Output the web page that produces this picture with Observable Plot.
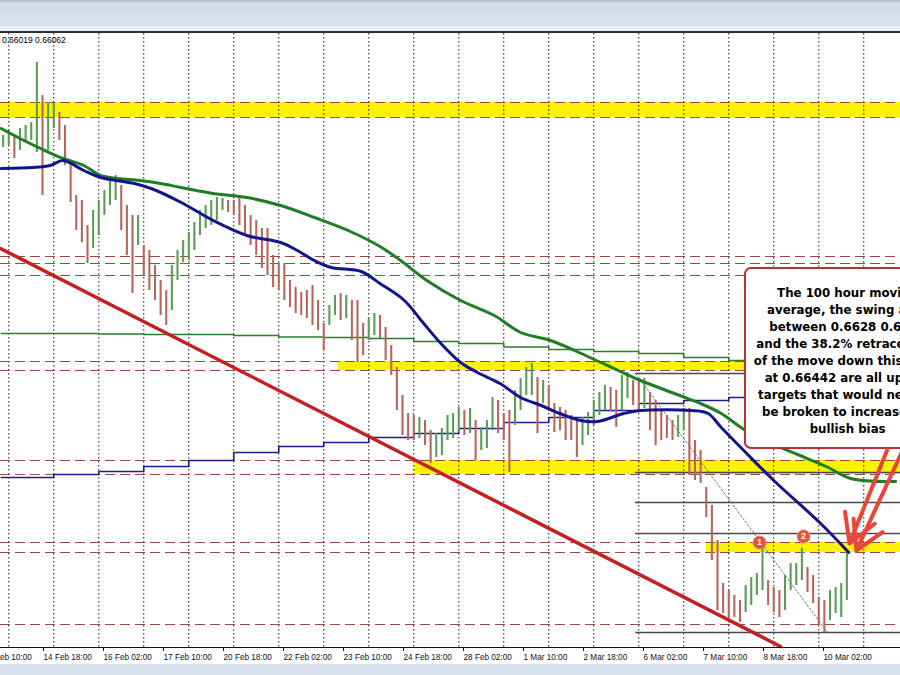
<!DOCTYPE html>
<html>
<head>
<meta charset="utf-8">
<script src="https://cdn.jsdelivr.net/npm/d3@7"></script>
<script src="https://cdn.jsdelivr.net/npm/@observablehq/plot@0.6"></script>
<style>
  html, body { margin: 0; padding: 0; background: #ffffff; }
  #wrap { position: relative; width: 900px; height: 675px; overflow: hidden; background: #ffffff; }
  #chart { position: absolute; left: 0; top: 0; z-index: 1; }
  .chrome { position: absolute; left: 0; width: 900px; z-index: 5; font-size: 1px; line-height: 1px; }
  #quote { position: absolute; left: 2px; top: 35px; z-index: 6; font: 8.5px "Liberation Sans", Arial, sans-serif; color: #000; }
</style>
</head>
<body>
<div id="wrap">
  <div id="chart"></div>
  <div class="chrome" style="top:0px;height:2px;background-color:#b4c2d1;">&nbsp;</div>
  <div class="chrome" style="top:2px;height:10px;background-color:#d3dde8;">&nbsp;</div>
  <div class="chrome" style="top:12px;height:14px;background-color:#d9e2ec;">&nbsp;</div>
  <div class="chrome" style="top:26px;height:5px;background-color:#e8eef5;">&nbsp;</div>
  <div class="chrome" style="top:31px;height:2px;background-color:#2e2e2e;">&nbsp;</div>
  <div class="chrome" style="top:664px;height:11px;background-color:#d8e2ed;">&nbsp;</div>
  <div id="quote">0.66019 0.66062</div>
</div>
<script>
// ---- time axis (hours of trading time since 13 Feb 10:00) ----
const tickLabels = ["13 Feb 10:00","14 Feb 18:00","16 Feb 02:00","17 Feb 10:00","20 Feb 18:00","22 Feb 02:00","23 Feb 10:00","24 Feb 18:00","28 Feb 02:00","1 Mar 10:00","2 Mar 18:00","6 Mar 02:00","7 Mar 10:00","8 Mar 18:00","10 Mar 02:00"];
const tickHours = [0,32,64,96,128,160,192,224,256,288,320,352,384,416,448];
const dayHours = [14,38,62,86,110,134,158,182,206,230,254,278,302,326,350,374,398,422,446,470];

// ---- price bars (every 3 hours) ----
const barFirstHour = 11, barStepHours = 3;
const barHigh = [
0.6961,0.6965,0.6961,0.69666,0.6969,0.69714,0.70194,0.6993,0.69874,0.69866,
0.69794,0.6969,0.6941,0.6913,0.6909,0.6889,0.6901,0.6909,0.6917,0.6925,
0.6929,0.6921,0.6905,0.6897,0.6897,0.6873,0.6869,0.6857,0.6845,0.6837,
0.6857,0.6869,0.6877,0.68834,0.68914,0.6901,0.6905,0.6909,0.69114,0.69106,
0.6909,0.6909,0.69114,0.6905,0.6897,0.6893,0.68866,0.68866,0.6865,0.68586,
0.68586,0.6845,0.68394,0.68354,0.6837,0.6841,0.6829,0.68106,0.6825,0.6833,
0.68346,0.6833,0.6829,0.6829,0.68106,0.68146,0.68186,0.6817,0.68074,0.6793,
0.67754,0.6753,0.67386,0.6737,0.67354,0.6733,0.6725,0.67226,0.67266,0.6737,
0.67386,0.67434,0.6741,0.67426,0.6733,0.67274,0.6733,0.67514,0.6749,0.67386,
0.6741,0.6757,0.67666,0.67754,0.67786,0.67674,0.6765,0.6761,0.67466,0.67434,
0.6741,0.6737,0.6733,0.67354,0.67394,0.6749,0.67554,0.6761,0.67594,0.6757,
0.6769,0.67714,0.6765,0.67634,0.67666,0.67554,0.6749,0.6741,0.6737,0.6733,
0.6737,0.67426,0.67426,0.6717,0.6709,0.66794,0.6665,0.6637,0.66026,0.6597,
0.6593,0.6589,0.6601,0.66074,0.66106,0.66306,0.6605,0.65994,0.6597,0.6609,
0.66186,0.66186,0.66306,0.66154,0.6609,0.65914,0.6589,0.6597,0.65994,0.66026,
0.66274];
const barLow = [
0.69514,0.6953,0.69426,0.6949,0.69554,0.6957,0.69474,0.6913,0.6949,0.69666,
0.6957,0.6937,0.69074,0.6885,0.68754,0.68586,0.68706,0.6881,0.6897,0.6905,
0.6909,0.6885,0.6865,0.68346,0.6873,0.6849,0.6837,0.6829,0.6817,0.6809,
0.6821,0.6845,0.68594,0.6861,0.6869,0.6881,0.68866,0.6889,0.6893,0.6901,
0.68994,0.6897,0.6889,0.6881,0.6873,0.6865,0.68546,0.6849,0.68394,0.6837,
0.6829,0.68234,0.68186,0.6817,0.68146,0.6809,0.6805,0.6789,0.6809,0.6817,
0.6813,0.68146,0.6797,0.67794,0.6785,0.6797,0.6801,0.67986,0.6781,0.6769,
0.6741,0.6721,0.6717,0.6717,0.67186,0.6713,0.66986,0.67034,0.6705,0.6717,
0.67186,0.67234,0.6721,0.67226,0.6701,0.6709,0.67106,0.6725,0.67226,0.6717,
0.66914,0.6729,0.6741,0.6753,0.6753,0.67226,0.67466,0.6741,0.67234,0.6725,
0.6717,0.6717,0.67034,0.6713,0.6721,0.6729,0.6737,0.6741,0.67394,0.67274,
0.6741,0.67506,0.6745,0.6741,0.67426,0.6725,0.6713,0.6717,0.67186,0.6717,
0.67194,0.6725,0.6689,0.6685,0.66826,0.66554,0.6621,0.6581,0.65786,0.65754,
0.65754,0.65714,0.65794,0.6585,0.6593,0.6597,0.6585,0.65794,0.65754,0.6581,
0.6597,0.6601,0.6605,0.65954,0.65866,0.6569,0.65634,0.6573,0.65786,0.65754,
0.6589];

// ---- moving averages ----
const ma100Hours = [10,27,36,43,54,63,81,90,106,123,141,159,168,177,186,202,212,225,234,244,255,264,276,287,298,308,319,328,342,351,378,387,394,406,422,447,462];
const ma100Prices = [0.69346,0.69354,0.6937,0.6941,0.6933,0.69274,0.69226,0.69186,0.69074,0.6893,0.6881,0.68754,0.6869,0.6861,0.68554,0.68522,0.68426,0.6829,0.6813,0.67954,0.67794,0.67714,0.67626,0.67514,0.6745,0.67386,0.6733,0.67322,0.67386,0.6741,0.6741,0.67386,0.67274,0.6709,0.6685,0.66506,0.66274];
const ma200Hours = [10,20,31,43,54,63,72,84,95,106,123,141,159,177,195,212,223,237,255,273,287,303,324,339,351,369,383,394,407,423,436,450,463,487];
const ma200Prices = [0.69666,0.69586,0.69506,0.69426,0.6937,0.6929,0.69266,0.6925,0.69226,0.69194,0.69146,0.69114,0.6905,0.68954,0.6885,0.68722,0.6861,0.6845,0.6829,0.6817,0.68034,0.6797,0.67834,0.6773,0.6765,0.67546,0.67466,0.67386,0.6725,0.6713,0.6705,0.66962,0.66866,0.66842];
const dailyGreenHours = [10,62,86,134,158,182,206,230,254,278,302,326,350,374,398,430];
const dailyGreenPrices = [0.68026,0.68022,0.68018,0.6801,0.67998,0.67994,0.67986,0.67962,0.67946,0.67918,0.67898,0.67882,0.67866,0.67834,0.6781,0.6781];
const dailyBlueHours = [10,38,62,86,110,134,158,182,206,230,254,278,302,326,350,374,398,430];
const dailyBluePrices = [0.66874,0.66898,0.66922,0.66962,0.6701,0.67074,0.67122,0.67154,0.67194,0.67226,0.67266,0.67314,0.67354,0.6741,0.67466,0.6749,0.67514,0.67514];

// ---- drawn objects ----
const bandStartHour = [9.6,189.9,230.4,386.1];
const bandEndHour = [489.6,406.9,489.6,489.6];
const bandLow = [0.69754,0.6773,0.66898,0.66274];
const bandHigh = [0.69874,0.67802,0.6701,0.66354];
const dashedLevels = [0.69874,0.69754,0.68642,0.68586,0.6849,0.67802,0.6773,0.6701,0.66898,0.66354,0.66274,0.65698];
const fibStartHour = 348.3;
const fibLevels = [0.67706,0.66914,0.66674,0.66426,0.65634];
const fibDiagHours = [348.3,450.7];
const fibDiagPrices = [0.67706,0.65634];
const trendHours = [9.6,425.6];
const trendPrices = [0.68706,0.65522];
const markerLabels = ["1","2"];
const markerHours = [414.4,437.9];
const markerPrices = [0.66354,0.66402];
const arrowFromHours = [482.6,490.2];
const arrowFromPrices = [0.67098,0.67074];
const arrowToHours = [462.4,466.1];
const arrowToPrices = [0.66346,0.6629];
const noteLines = ["The 100 hour moving","average, the swing area","between 0.6628 0.6634","and the 38.2% retracement","of the move down this week","at 0.66442 are all upside","targets that would need to","be broken to increase the","bullish bias"];
const noteBox = {x1: 406.9, x2: 520, top: 0.68546, bottom: 0.67106, centerHour: 461.4, textTop: 0.68418};

// ---- build tables ----
const bars = barHigh.map((h, i) => ({t: barFirstHour + i * barStepHours, hi: h, lo: barLow[i]}));
bars.forEach((b, i) => { const prev = i ? bars[i-1] : b; b.up = (b.hi + b.lo) >= (prev.hi + prev.lo); });
const ma100 = ma100Hours.map((t, i) => ({t, p: ma100Prices[i]}));
const ma200 = ma200Hours.map((t, i) => ({t, p: ma200Prices[i]}));
const dGreen = dailyGreenHours.map((t, i) => ({t, p: dailyGreenPrices[i]}));
const dBlue = dailyBlueHours.map((t, i) => ({t, p: dailyBluePrices[i]}));
const bands = bandLow.map((lo, i) => ({x1: bandStartHour[i], x2: bandEndHour[i], lo, hi: bandHigh[i]}));
const fibDiag = fibDiagHours.map((t, i) => ({t, p: fibDiagPrices[i]}));
const trend = trendHours.map((t, i) => ({t, p: trendPrices[i]}));
const markers = markerLabels.map((l, i) => ({l, t: markerHours[i], p: markerPrices[i]}));
const arrows = arrowFromHours.map((t, i) => ({x1: t, y1: arrowFromPrices[i], x2: arrowToHours[i], y2: arrowToPrices[i]}));

const chart = Plot.plot({
  width: 900, height: 675,
  marginTop: 33, marginBottom: 28, marginLeft: 0, marginRight: 0,
  style: {background: "white", overflow: "hidden"},
  x: {domain: [9.6, 489.6], axis: null},
  y: {domain: [0.65514, 0.70426], axis: null},
  marks: [
    Plot.rect(bands, {x1: "x1", x2: "x2", y1: "lo", y2: "hi", fill: "#fbf300"}),
    Plot.ruleX(dayHours, {stroke: "#1a1a1a", strokeWidth: 1, strokeDasharray: "1.5,2.5"}),
    Plot.ruleY(dashedLevels, {stroke: "#9a4a40", strokeWidth: 1.2, strokeDasharray: "10,5"}),
    Plot.ruleY(fibLevels, {x1: fibStartHour, x2: 489.6, stroke: "#4a4a4a", strokeWidth: 1.3}),
    Plot.line(fibDiag, {x: "t", y: "p", stroke: "#777", strokeWidth: 1, strokeDasharray: "2,2"}),
    Plot.line(dGreen, {x: "t", y: "p", curve: "step-after", stroke: "#2a7d2a", strokeWidth: 1.6}),
    Plot.line(dBlue, {x: "t", y: "p", curve: "step-after", stroke: "#1c1c8c", strokeWidth: 1.6}),
    Plot.ruleX(bars, {x: "t", y1: "lo", y2: "hi", stroke: d => d.up ? "#5a9e55" : "#b5675c", strokeWidth: 2.1}),
    Plot.line(ma200, {x: "t", y: "p", curve: "catmull-rom", stroke: "#1f7d22", strokeWidth: 3}),
    Plot.line(ma100, {x: "t", y: "p", curve: "catmull-rom", stroke: "#14148c", strokeWidth: 3}),
    Plot.line(trend, {x: "t", y: "p", stroke: "#c4201f", strokeWidth: 3.5}),
    Plot.rect([noteBox], {x1: "x1", x2: "x2", y1: "bottom", y2: "top", fill: "white", stroke: "#b3302c", strokeWidth: 2, rx: 6}),
    Plot.text([noteLines.join("\n")], {x: noteBox.centerHour, y: noteBox.textTop, text: d => d, lineAnchor: "top", textAnchor: "middle", fontFamily: "DejaVu Sans", fontWeight: "bold", fontSize: 11.8, lineHeight: 1.44, fill: "#000"}),
    Plot.arrow(arrows, {x1: "x1", y1: "y1", x2: "x2", y2: "y2", stroke: "#e9463b", strokeWidth: 4, headLength: 12}),
    Plot.dot(markers, {x: "t", y: "p", r: 6.5, fill: "#e5533d", stroke: "#f08070", strokeWidth: 1}),
    Plot.text(markers, {x: "t", y: "p", text: "l", fill: "white", fontSize: 9, fontWeight: "bold", fontFamily: "Liberation Sans"}),
    Plot.ruleY([0.65514], {stroke: "#111", strokeWidth: 1.2}),
    Plot.axisX({ticks: tickHours, tickFormat: (d, i) => tickLabels[i], tickSize: 4, tickPadding: 3, textAnchor: "start", dx: 1, fontSize: 8.2, fontFamily: "Liberation Sans", color: "#111"})
  ]
});
document.getElementById("chart").appendChild(chart);
</script>
</body>
</html>
